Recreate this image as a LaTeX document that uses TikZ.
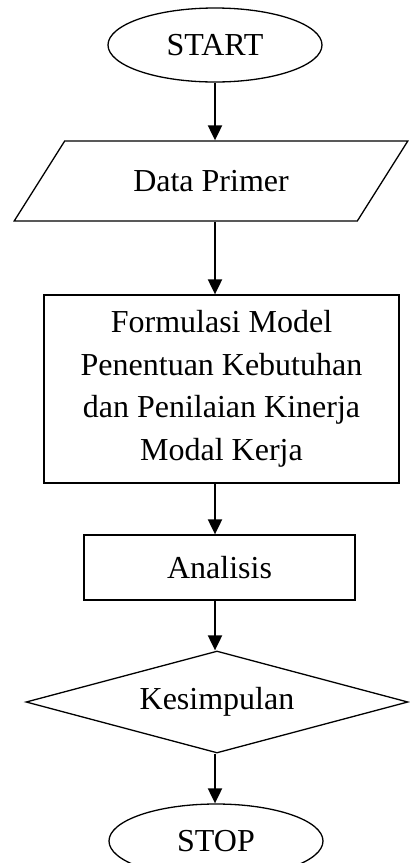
\documentclass[tikz,border=0pt]{standalone}
\usepackage{fontspec}
\setmainfont{Liberation Serif}
\usepackage{tikz}
\usetikzlibrary{shapes.geometric,arrows.meta}
\tikzset{
  box/.style={draw=black, line width=1.3pt, inner sep=0pt,
    font=\fontsize{32}{42.5}\selectfont, align=center},
  term/.style={box, ellipse, minimum width=214pt, minimum height=74pt},
  io/.style={box, trapezium, trapezium left angle=38.7, trapezium right angle=141.3,
    trapezium stretches=true, minimum width=394pt, minimum height=80pt},
  proc/.style={box, rectangle},
  dec/.style={box, diamond, aspect=3.75, minimum width=382pt, minimum height=102pt},
  arr/.style={draw=black, line width=2pt, -{Triangle[length=15pt,width=14pt]}}
}

\begin{document}
\begin{tikzpicture}[x=1pt,y=-1pt]
  \useasboundingbox (0,0) rectangle (410,863);

  \node[term] (start) at (215,45) {START};
  \node[io] (data) at (211,181) {Data Primer};
  \node[proc, minimum width=355pt, minimum height=188pt] (model) at (221.5,389)
    {Formulasi Model\\Penentuan Kebutuhan\\dan Penilaian Kinerja\\Modal Kerja};
  \node[proc, minimum width=271pt, minimum height=65pt] (analisis) at (219.5,567.5) {Analisis};
  \node[dec] (kesimpulan) at (217,702) {Kesimpulan};
  \node[term] (stop) at (216,841) {STOP};

  \draw[arr] (start.south) -- (start.south |- data.north);
  \draw[arr] (data.south -| start.south) -- (model.north -| start.south);
  \draw[arr] (model.south -| start.south) -- (analisis.north -| start.south);
  \draw[arr] (analisis.south -| start.south) -- (kesimpulan.north -| start.south);
  \draw[arr] (kesimpulan.south -| start.south) -- (stop.north -| start.south);
\end{tikzpicture}
\end{document}
